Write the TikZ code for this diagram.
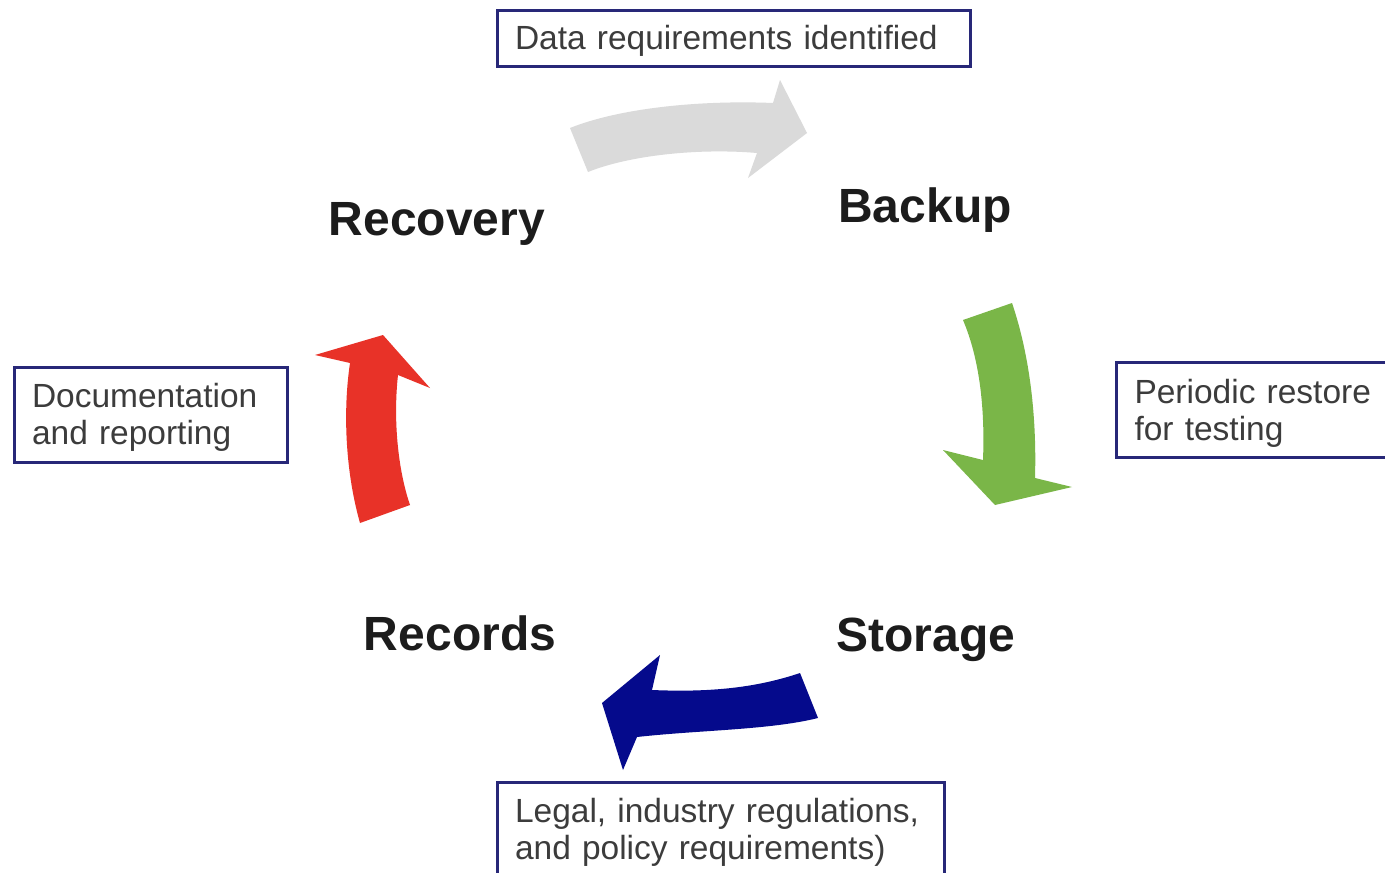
\documentclass[tikz,border=0pt]{standalone}
\usepackage{fontspec}
\setmainfont{Liberation Sans}
\definecolor{boxline}{RGB}{40,40,120}
\definecolor{boxtext}{RGB}{60,60,60}
\definecolor{labeltext}{RGB}{28,28,28}
\definecolor{arrowgray}{RGB}{218,218,218}
\definecolor{arrowgreen}{RGB}{122,182,72}
\definecolor{arrowblue}{RGB}{5,10,140}
\definecolor{arrowred}{RGB}{232,50,40}
\tikzset{
  notebox/.style={draw=boxline, line width=3pt, fill=white, rectangle,
    inner sep=0pt},
  notetext/.style={inner sep=0pt, align=left, text=boxtext,
    font=\fontsize{33.5}{37}\selectfont},
  phase/.style={anchor=base, inner sep=0pt, text=labeltext,
    font=\fontsize{48}{52}\selectfont\bfseries},
}
\begin{document}
\begin{tikzpicture}[x=1pt, y=-1pt]
\useasboundingbox[fill=white] (0,0) rectangle (1385,873);

% curved cycle arrows
\fill[arrowgray] (570,128) .. controls (620,108) and (700,100) .. (773,103)
  -- (780,80) -- (807,133) -- (748,178) -- (757,153)
  .. controls (700,148) and (630,155) .. (588,172) -- cycle;
\fill[arrowgreen] (963,320) .. controls (980,360) and (985,410) .. (983,460)
  -- (943,450) -- (995,505) -- (1072,487) -- (1035,478)
  .. controls (1037,410) and (1028,350) .. (1012,303) -- cycle;
\fill[arrowblue] (800,673) .. controls (750,690) and (700,692) .. (652,690)
  -- (660,655) -- (602,703) -- (623,770) -- (637,737)
  .. controls (700,730) and (770,730) .. (818,718) -- cycle;
\fill[arrowred] (360,523) .. controls (345,470) and (343,410) .. (350,363)
  -- (315,355) -- (383,335) -- (430,388) -- (398,375)
  .. controls (393,420) and (398,470) .. (410,505) -- cycle;

% phase labels
\node[phase] (recovery) at (437,235) {Recovery};
\node[phase] (backup) at (925,222) {Backup};
\node[phase] (storage) at (926,651) {Storage};
\node[phase] (records) at (460,650) {Records};

% note boxes, each with its text set a little below the frame's centre
\node[notebox, minimum width=473pt, minimum height=56pt] (datareq) at (733.5,38) {};
\node[notetext, text width=437pt] (datareqtext) at ([yshift=-3pt]datareq.center)
  {Data requirements identified};

\node[notebox, minimum width=273pt, minimum height=95pt] (docs) at (150.5,414.5) {};
\node[notetext, text width=237pt] (docstext) at ([yshift=-3pt]docs.center)
  {Documentation\\and reporting};

\node[notebox, anchor=west, minimum width=290pt, minimum height=95pt] (restore) at (1115,410) {};
\node[notetext, text width=254pt] (restoretext) at ([yshift=-3.5pt]restore.center)
  {Periodic restore\\for testing};

\node[notebox, minimum width=447pt, minimum height=94pt] (legal) at (720.5,829) {};
\node[notetext, text width=411pt] (legaltext) at ([yshift=-3pt]legal.center)
  {Legal, industry regulations,\\and policy requirements)};
\end{tikzpicture}
\end{document}
